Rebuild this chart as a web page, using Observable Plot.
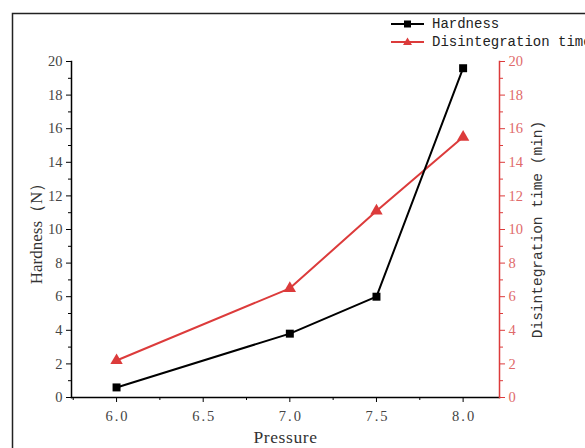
<!DOCTYPE html>
<html><head><meta charset="utf-8">
<script src="https://cdn.jsdelivr.net/npm/d3@7"></script>
<script src="https://cdn.jsdelivr.net/npm/@observablehq/plot@0.6"></script>
<style>
body{margin:0;background:#fff;}
#wrap{position:relative;width:585px;height:448px;overflow:hidden;}
#legend{position:absolute;left:391px;top:15px;font-family:"Liberation Mono",monospace;font-size:14px;color:#222;line-height:18px;white-space:nowrap;}
#legend div{display:flex;align-items:center;}
#legend svg{margin-right:8px;}
</style></head>
<body><div id="wrap"><div id="legend"></div></div>
<script>
const pressure = [6.0, 7.0, 7.5, 8.0];
const hardness = [0.6, 3.8, 6.0, 19.6];
const disintegration = [2.2, 6.5, 11.1, 15.5];
const seriesNames = ["Hardness", "Disintegration time"];
const xMajor = [6.0, 6.5, 7.0, 7.5, 8.0];
const xMinor = [5.75, 6.25, 6.75, 7.25, 7.75];
const yMajor = [0, 2, 4, 6, 8, 10, 12, 14, 16, 18, 20];
const yMinor = [1, 3, 5, 7, 9, 11, 13, 15, 17, 19];

const RED = "#dc3b3b";
const hData = pressure.map((p, i) => ({p, v: hardness[i]}));
const dData = pressure.map((p, i) => ({p, v: disintegration[i]}));

const chart = Plot.plot({
  width: 585, height: 448,
  marginLeft: 71, marginRight: 86, marginTop: 61, marginBottom: 51,
  style: {fontFamily: "Liberation Serif, serif", fontSize: "14.5px", color: "#444", background: "#fff"},
  x: {domain: [5.74, 8.21]},
  y: {domain: [0, 20]},
  marks: [
    Plot.frame({anchor: "left", stroke: "#000", strokeWidth: 1.5}),
    Plot.frame({anchor: "bottom", stroke: "#000", strokeWidth: 1.5}),
    Plot.frame({anchor: "right", stroke: RED, strokeWidth: 1.5}),
    Plot.axisX({ticks: xMajor, tickSize: 5, tickPadding: 8, tickFormat: d3.format(".1f"),
      fontSize: 14.5, label: "Pressure", labelAnchor: "center",
      labelOffset: 45, labelArrow: "none", stroke: "#000", fill: "#444"}),
    Plot.axisX({ticks: xMinor, tickSize: 3, text: null, label: null, stroke: "#000"}),
    Plot.axisY({ticks: yMajor, tickSize: 5, tickPadding: 4, label: "Hardness（N）", labelAnchor: "center",
      labelOffset: 42, labelArrow: "none", fontSize: 14.5, stroke: "#000", fill: "#444"}),
    Plot.axisY({ticks: yMinor, tickSize: 3, text: null, label: null, stroke: "#000"}),
    Plot.axisY({anchor: "right", ticks: yMajor, tickSize: 5, tickPadding: 4, label: "Disintegration time (min)",
      labelAnchor: "center", labelOffset: 42, labelArrow: "none", stroke: RED, fill: "#e06a6a", fontSize: 14.5}),
    Plot.axisY({anchor: "right", ticks: yMinor, tickSize: 3, text: null, label: null, stroke: RED}),
    Plot.line(dData, {x: "p", y: "v", stroke: RED, strokeWidth: 2}),
    Plot.dot(dData, {x: "p", y: "v", symbol: "triangle", r: 4.6, fill: RED, stroke: "none"}),
    Plot.line(hData, {x: "p", y: "v", stroke: "#000", strokeWidth: 2}),
    Plot.dot(hData, {x: "p", y: "v", symbol: "square", r: 4.5, fill: "#000", stroke: "none"})
  ]
});
const svg = d3.select(chart);
// x tick labels spacing
svg.selectAll("g[aria-label='x-axis tick label'] text").attr("letter-spacing", "2px").attr("dx", "1px");
// label fonts
svg.selectAll("g[aria-label='x-axis label'] text")
  .attr("font-family", "Liberation Serif, serif").attr("font-size", 17.5).attr("letter-spacing", "0.6px").attr("fill", "#333");
svg.selectAll("g[aria-label='y-axis label'] text").each(function(){
  const t = d3.select(this);
  if (t.text().startsWith("Disintegration")) t.attr("font-family", "Liberation Mono, monospace").attr("font-size", 14.5).attr("fill", "#333");
  else t.attr("font-size", 17).attr("fill", "#333");
});
// outer decorative frame
svg.append("path").attr("d", "M12.5,448 V13.5 H585").attr("fill", "none").attr("stroke", "#222").attr("stroke-width", 1.5);
document.getElementById("wrap").prepend(chart);

// legend
const leg = d3.select("#legend");
[["#000", "square"], [RED, "triangle"]].forEach(([c, s], i) => {
  const row = leg.append("div");
  const sw = row.append("svg").attr("width", 33).attr("height", 12);
  sw.append("line").attr("x1", 0).attr("x2", 33).attr("y1", 6).attr("y2", 6).attr("stroke", c).attr("stroke-width", 2);
  if (s === "square") sw.append("rect").attr("x", 13).attr("y", 2.5).attr("width", 7).attr("height", 7).attr("fill", c);
  else sw.append("path").attr("d", "M16.5,1.5 L21,9 L12,9 Z").attr("fill", c);
  row.append("span").text(seriesNames[i]);
});
</script></body></html>
